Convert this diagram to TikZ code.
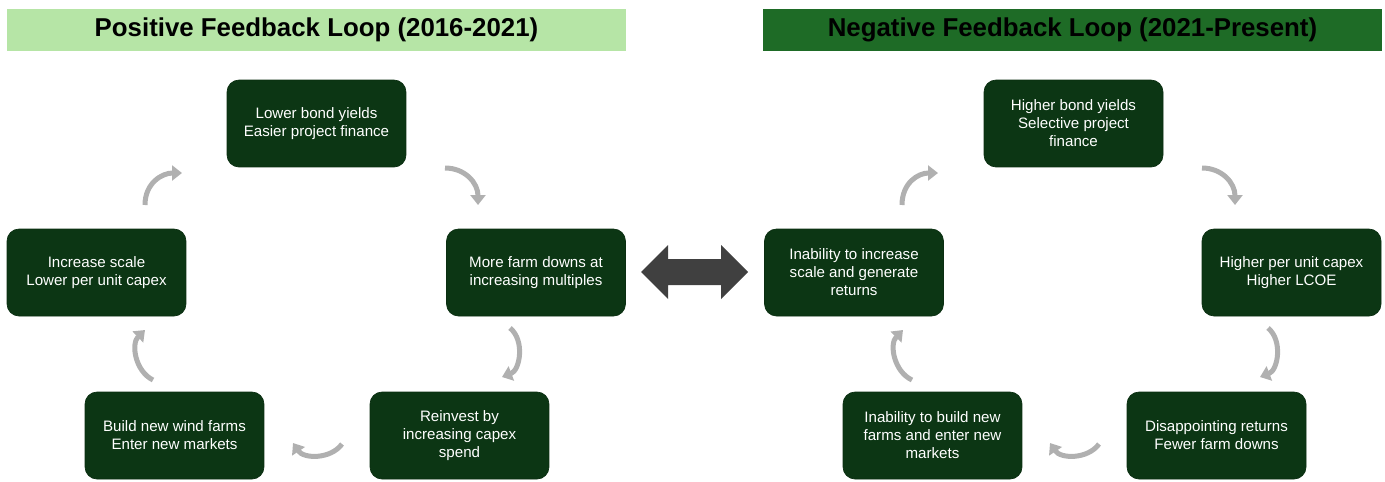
\documentclass[tikz,border=0pt]{standalone}
\usepackage{fontspec}
\setmainfont{Liberation Sans}
\usepackage{tikz}
\usetikzlibrary{positioning, arrows.meta, calc}

\definecolor{boxgreen}{RGB}{12,54,20}
\definecolor{lightgreen}{RGB}{182,229,166}
\definecolor{darkgreen}{RGB}{30,107,38}
\definecolor{arrowgray}{RGB}{176,176,176}
\definecolor{swapgray}{RGB}{64,64,64}

\tikzset{
  loopbox/.style={rectangle, rounded corners=0.24cm, fill=boxgreen, draw=boxgreen!85!black,
    text=white, minimum width=3.58cm, minimum height=1.74cm, align=center, inner sep=0pt,
    font=\fontsize{8.6}{10.2}\selectfont},
  headbox/.style={rectangle, minimum width=12.38cm, minimum height=0.84cm, inner sep=0pt,
    font=\fontsize{14.7}{16}\selectfont\bfseries},
  cyclearrow/.style={draw=arrowgray, line width=0.1cm, -{Triangle[length=0.2cm,width=0.3cm]}}
}

\begin{document}
\begin{tikzpicture}[x=0.02cm, y=-0.02cm]
  \useasboundingbox (0,0) rectangle (1385,481);

  % Headers
  \node[headbox, fill=lightgreen] (posHead) at (316.5,30) {Positive Feedback Loop (2016-2021)};
  \node[headbox, fill=darkgreen] (negHead) at (1072.5,30) {Negative Feedback Loop (2021-Present)};

  % Positive loop
  \node[loopbox] (pTop) at (316.5,123.5) {Lower bond yields\\Easier project finance};
  \node[loopbox] (pRight) at (536,272.5) {More farm downs at\\increasing multiples};
  \node[loopbox] (pBotR) at (459.5,435.5) {Reinvest by\\increasing capex\\spend};
  \node[loopbox] (pBotL) at (174.5,435.5) {Build new wind farms\\Enter new markets};
  \node[loopbox] (pLeft) at (96.5,272.5) {Increase scale\\Lower per unit capex};

  % Negative loop
  \node[loopbox] (nTop) at (1073.5,123.5) {Higher bond yields\\Selective project\\finance};
  \node[loopbox] (nRight) at (1291.5,272.5) {Higher per unit capex\\Higher LCOE};
  \node[loopbox] (nBotR) at (1216.5,435.5) {Disappointing returns\\Fewer farm downs};
  \node[loopbox] (nBotL) at (932.5,435.5) {Inability to build new\\farms and enter new\\markets};
  \node[loopbox] (nLeft) at (854,272.5) {Inability to increase\\scale and generate\\returns};

  % Arrow ends, positive loop
  \coordinate (p1a) at (145,205);  \coordinate (p1b) at (182,173);
  \coordinate (p2a) at (445,168);  \coordinate (p2b) at (478,205);
  \coordinate (p3a) at (510,328);  \coordinate (p3b) at (502,377);
  \coordinate (p4a) at (342,444);  \coordinate (p4b) at (293,443);
  \coordinate (p5a) at (153,380);  \coordinate (p5b) at (145,330);

  % Arrow ends, negative loop
  \coordinate (n1a) at (902,205);  \coordinate (n1b) at (938,173);
  \coordinate (n2a) at (1202,168); \coordinate (n2b) at (1235,205);
  \coordinate (n3a) at (1268,328); \coordinate (n3b) at (1260,377);
  \coordinate (n4a) at (1099,444); \coordinate (n4b) at (1050,443);
  \coordinate (n5a) at (912,380);  \coordinate (n5b) at (903,330);

  \foreach \l in {p,n} {
    \draw[cyclearrow] (\l1a) .. controls ($(\l1a)+(0,-22)$) and ($(\l1b)+(-20,0)$) .. (\l1b);
    \draw[cyclearrow] (\l2a) .. controls ($(\l2a)+(20,0)$) and ($(\l2b)+(0,-22)$) .. (\l2b);
    \draw[cyclearrow] (\l3a) to[bend left=60] (\l3b);
    \draw[cyclearrow] (\l4a) to[bend left=55] (\l4b);
    \draw[cyclearrow] (\l5a) to[bend left=55] (\l5b);
  }

  % Swap arrow between the loops
  \fill[swapgray] (641,272) -- (668,245) -- (668,259) -- (721,259) -- (721,245) -- (748,272)
    -- (721,299) -- (721,285) -- (668,285) -- (668,299) -- cycle;
\end{tikzpicture}
\end{document}
